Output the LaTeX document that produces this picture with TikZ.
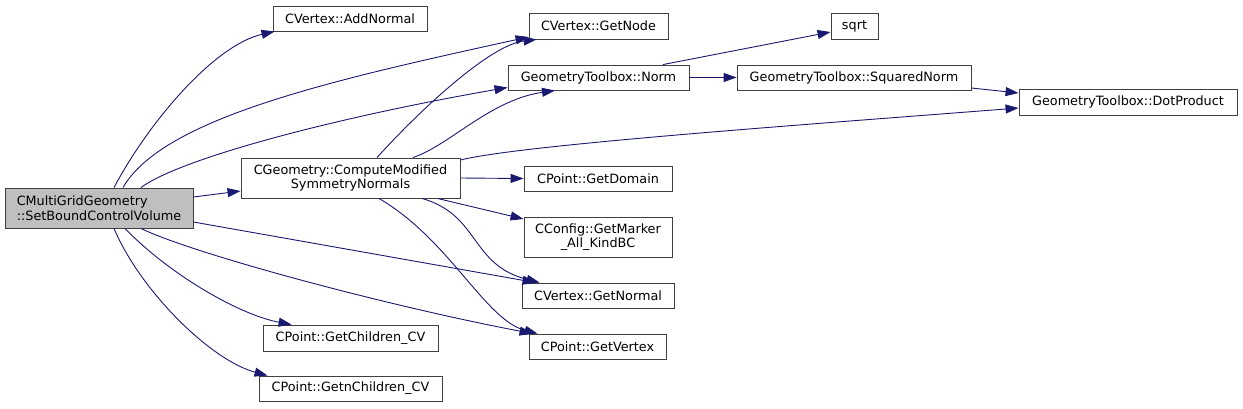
\documentclass[tikz,border=0pt]{standalone}
\usepackage{fontspec}
\setmainfont{DejaVu Sans}
\usetikzlibrary{arrows.meta}
\definecolor{edgeblue}{HTML}{191970}
\definecolor{rootgray}{HTML}{BFBFBF}
\definecolor{boxline}{HTML}{404040}

\begin{document}
\begin{tikzpicture}[x=1pt,y=-1pt,
    fn/.style={draw=boxline,line width=0.9pt,fill=white,inner sep=0pt,
      font=\fontsize{12.8}{14.6}\selectfont,align=center},
    call/.style={draw=edgeblue,line width=0.9pt,-{Triangle[length=13pt,width=9pt]}}
  ]
  \useasboundingbox (0,0) rectangle (1243,408);

  % function boxes, placed at their centres
  \node[fn,fill=rootgray,align=left,minimum width=188pt,minimum height=40pt] (root) at (99,208) {CMultiGridGeometry\\::SetBoundControlVolume};
  \node[fn,minimum width=154pt,minimum height=25pt] (addnormal) at (350,18.5) {CVertex::AddNormal};
  \node[fn,minimum width=139pt,minimum height=26pt] (getnode) at (598.5,26) {CVertex::GetNode};
  \node[fn,minimum width=181pt,minimum height=25pt] (norm) at (598.5,77.5) {GeometryToolbox::Norm};
  \node[fn,minimum width=47pt,minimum height=26pt] (sqrtf) at (854.5,26) {sqrt};
  \node[fn,minimum width=234pt,minimum height=25pt] (sqnorm) at (854,77.5) {GeometryToolbox::SquaredNorm};
  \node[fn,minimum width=218pt,minimum height=26pt] (dotprod) at (1128,102) {GeometryToolbox::DotProduct};
  \node[fn,minimum width=219pt,minimum height=40pt] (compmod) at (350.5,178) {CGeometry::ComputeModified\\SymmetryNormals};
  \node[fn,minimum width=148pt,minimum height=25pt] (getdomain) at (598,178.5) {CPoint::GetDomain};
  \node[fn,minimum width=148pt,minimum height=40pt] (getmarker) at (598,237) {CConfig::GetMarker\\\_All\_KindBC};
  \node[fn,minimum width=152pt,minimum height=25pt] (getnormal) at (598,295.5) {CVertex::GetNormal};
  \node[fn,minimum width=137pt,minimum height=25pt] (getvertex) at (597.5,346.5) {CPoint::GetVertex};
  \node[fn,minimum width=175pt,minimum height=26pt] (getchild) at (350.5,338) {CPoint::GetChildren\_CV};
  \node[fn,minimum width=183pt,minimum height=25pt] (getnchild) at (350.5,388.5) {CPoint::GetnChildren\_CV};

  % calls made by the root
  \draw[call] ([xshift=15pt]root.north) .. controls (150,120) and (215,45) .. ([xshift=2pt]addnormal.south west);
  \draw[call] ([xshift=24pt]root.north) .. controls (163,118) and (332,80) .. ([yshift=-11pt]getnode.west);
  \draw[call] ([xshift=42pt]root.north) .. controls (181,158) and (338,117) .. ([yshift=-10pt]norm.west);
  \draw[call] ([yshift=11pt]root.east) -- ([yshift=-13pt]compmod.west);
  \draw[call] ([yshift=-14pt]root.east) -- ([xshift=14pt]getnormal.north west);
  \draw[call] ([xshift=42pt]root.south) .. controls (191,253) and (383,305) .. ([xshift=4pt]getvertex.north west);
  \draw[call] ([xshift=26pt]root.south) .. controls (170,275) and (240,315) .. ([xshift=29pt]getchild.north west);
  \draw[call] ([xshift=15pt]root.south) .. controls (140,290) and (210,360) .. ([xshift=9pt]getnchild.north west);

  % calls made by ComputeModifiedSymmetryNormals
  \draw[call] ([xshift=26.5pt]compmod.north) .. controls (420,110) and (490,45) .. ([xshift=8pt]getnode.south west);
  \draw[call] ([xshift=62.5pt]compmod.north) .. controls (450,145) and (490,100) .. ([xshift=-43.5pt]norm.south);
  \draw[call] ([yshift=18pt]compmod.east) .. controls (520,145) and (800,125) .. ([yshift=-6pt]dotprod.west);
  \draw[call] (compmod.east) -- (getdomain.west);
  \draw[call] ([xshift=87pt]compmod.south) -- ([yshift=18pt]getmarker.west);
  \draw[call] ([xshift=71.5pt]compmod.south) .. controls (480,215) and (470,265) .. ([xshift=18pt]getnormal.north west);
  \draw[call] ([xshift=28.5pt]compmod.south) .. controls (450,240) and (485,320) .. ([xshift=9pt]getvertex.north west);

  % calls made by the norm functions
  \draw[call] ([xshift=64.5pt]norm.north) -- ([yshift=-6pt]sqrtf.west);
  \draw[call] (norm.east) -- (sqnorm.west);
  \draw[call] ([yshift=-10.5pt]sqnorm.east) -- ([yshift=9pt]dotprod.west);
\end{tikzpicture}
\end{document}
